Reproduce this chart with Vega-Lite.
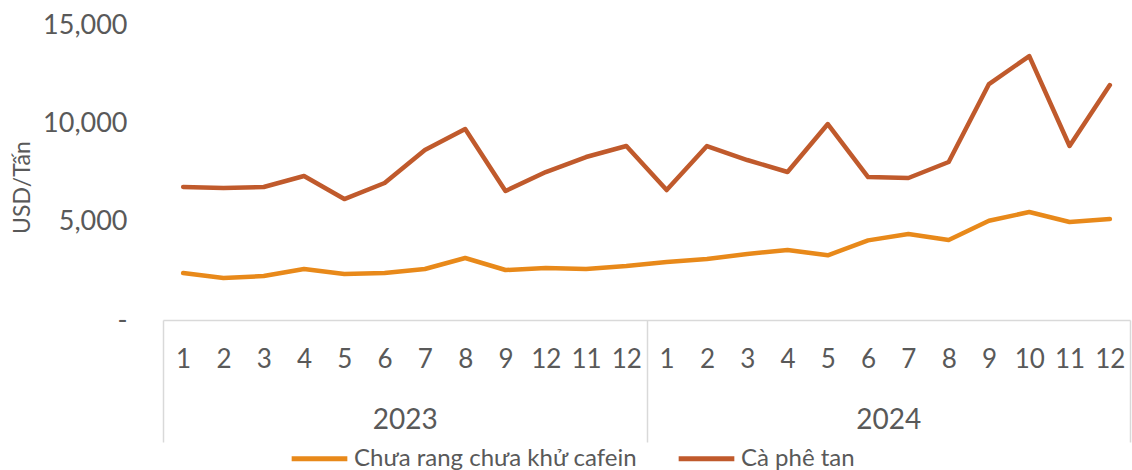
{
  "$schema": "https://vega.github.io/schema/vega-lite/v6.json",
  "width": 967,
  "height": 295,
  "autosize": "none",
  "padding": {"left": 163, "top": 25, "right": 2, "bottom": 150},
  "background": "white",
  "config": {
    "font": "Lato",
    "view": {"stroke": null},
    "axis": {"labelColor": "#595959", "titleColor": "#595959", "labelFont": "Lato", "titleFont": "Lato", "grid": false}
  },
  "layer": [
    {
      "data": {"values": [
        {"key": "2023|01|1", "series": "Chưa rang chưa khử cafein", "value": 2390},
        {"key": "2023|02|2", "series": "Chưa rang chưa khử cafein", "value": 2135},
        {"key": "2023|03|3", "series": "Chưa rang chưa khử cafein", "value": 2237},
        {"key": "2023|04|4", "series": "Chưa rang chưa khử cafein", "value": 2593},
        {"key": "2023|05|5", "series": "Chưa rang chưa khử cafein", "value": 2339},
        {"key": "2023|06|6", "series": "Chưa rang chưa khử cafein", "value": 2390},
        {"key": "2023|07|7", "series": "Chưa rang chưa khử cafein", "value": 2593},
        {"key": "2023|08|8", "series": "Chưa rang chưa khử cafein", "value": 3152},
        {"key": "2023|09|9", "series": "Chưa rang chưa khử cafein", "value": 2542},
        {"key": "2023|10|12", "series": "Chưa rang chưa khử cafein", "value": 2644},
        {"key": "2023|11|11", "series": "Chưa rang chưa khử cafein", "value": 2593},
        {"key": "2023|12|12", "series": "Chưa rang chưa khử cafein", "value": 2745},
        {"key": "2024|01|1", "series": "Chưa rang chưa khử cafein", "value": 2949},
        {"key": "2024|02|2", "series": "Chưa rang chưa khử cafein", "value": 3101},
        {"key": "2024|03|3", "series": "Chưa rang chưa khử cafein", "value": 3355},
        {"key": "2024|04|4", "series": "Chưa rang chưa khử cafein", "value": 3559},
        {"key": "2024|05|5", "series": "Chưa rang chưa khử cafein", "value": 3290},
        {"key": "2024|06|6", "series": "Chưa rang chưa khử cafein", "value": 4050},
        {"key": "2024|07|7", "series": "Chưa rang chưa khử cafein", "value": 4372},
        {"key": "2024|08|8", "series": "Chưa rang chưa khử cafein", "value": 4067},
        {"key": "2024|09|9", "series": "Chưa rang chưa khử cafein", "value": 5050},
        {"key": "2024|10|10", "series": "Chưa rang chưa khử cafein", "value": 5491},
        {"key": "2024|11|11", "series": "Chưa rang chưa khử cafein", "value": 4982},
        {"key": "2024|12|12", "series": "Chưa rang chưa khử cafein", "value": 5135},
        {"key": "2023|01|1", "series": "Cà phê tan", "value": 6762},
        {"key": "2023|02|2", "series": "Cà phê tan", "value": 6711},
        {"key": "2023|03|3", "series": "Cà phê tan", "value": 6762},
        {"key": "2023|04|4", "series": "Cà phê tan", "value": 7320},
        {"key": "2023|05|5", "series": "Cà phê tan", "value": 6150},
        {"key": "2023|06|6", "series": "Cà phê tan", "value": 6965},
        {"key": "2023|07|7", "series": "Cà phê tan", "value": 8642},
        {"key": "2023|08|8", "series": "Cà phê tan", "value": 9710},
        {"key": "2023|09|9", "series": "Cà phê tan", "value": 6558},
        {"key": "2023|10|12", "series": "Cà phê tan", "value": 7524},
        {"key": "2023|11|11", "series": "Cà phê tan", "value": 8287},
        {"key": "2023|12|12", "series": "Cà phê tan", "value": 8846},
        {"key": "2024|01|1", "series": "Cà phê tan", "value": 6609},
        {"key": "2024|02|2", "series": "Cà phê tan", "value": 8846},
        {"key": "2024|03|3", "series": "Cà phê tan", "value": 8134},
        {"key": "2024|04|4", "series": "Cà phê tan", "value": 7524},
        {"key": "2024|05|5", "series": "Cà phê tan", "value": 9964},
        {"key": "2024|06|6", "series": "Cà phê tan", "value": 7270},
        {"key": "2024|07|7", "series": "Cà phê tan", "value": 7219},
        {"key": "2024|08|8", "series": "Cà phê tan", "value": 8033},
        {"key": "2024|09|9", "series": "Cà phê tan", "value": 11998},
        {"key": "2024|10|10", "series": "Cà phê tan", "value": 13421},
        {"key": "2024|11|11", "series": "Cà phê tan", "value": 8846},
        {"key": "2024|12|12", "series": "Cà phê tan", "value": 11947}
      ]},
      "mark": {"type": "line", "strokeWidth": 4.5, "strokeJoin": "round", "strokeCap": "round"},
      "encoding": {
        "x": {
          "field": "key", "type": "ordinal", "sort": "ascending",
          "axis": {
            "title": null, "orient": "bottom", "labelAngle": 0, "ticks": false,
            "domain": true, "domainColor": "#d9d9d9", "domainWidth": 1.5,
            "labelExpr": "split(datum.value, '|')[2]",
            "labelFontSize": 26, "labelPadding": 26, "labelBaseline": "top"
          }
        },
        "y": {
          "field": "value", "type": "quantitative",
          "scale": {"domain": [0, 15000], "nice": false},
          "axis": {
            "title": "USD/Tấn", "titleFontSize": 23, "titleFontWeight": "normal",
            "titlePadding": 8, "titleY": 162,
            "values": [0, 5000, 10000, 15000], "domain": false, "ticks": false,
            "labelFontSize": 27, "labelPadding": 36,
            "labelExpr": "datum.value == 0 ? '-' : format(datum.value, ',')"
          }
        },
        "color": {
          "field": "series", "type": "nominal",
          "scale": {"domain": ["Chưa rang chưa khử cafein", "Cà phê tan"], "range": ["#E8891A", "#C05A2C"]},
          "legend": {
            "title": null, "orient": "none", "legendX": 126, "legendY": 403, "direction": "horizontal",
            "symbolType": "stroke", "symbolSize": 3100, "symbolStrokeWidth": 5,
            "labelFontSize": 24, "labelColor": "#595959", "labelFont": "Lato", "labelLimit": 0,
            "columnPadding": 30, "labelOffset": 4, "padding": 0
          }
        }
      }
    },
    {
      "data": {"values": [{"year": "2023"}, {"year": "2024"}]},
      "mark": {"type": "point", "opacity": 0},
      "encoding": {
        "x": {
          "field": "year", "type": "ordinal",
          "scale": {"type": "band", "paddingInner": 0, "paddingOuter": 0},
          "axis": {
            "title": null, "orient": "bottom", "labelAngle": 0, "domain": false,
            "ticks": true, "tickBand": "extent", "tickSize": 122, "tickColor": "#d9d9d9", "tickWidth": 1.5,
            "labelFontSize": 28, "labelPadding": -36, "labelBaseline": "top"
          }
        }
      }
    }
  ],
  "resolve": {"scale": {"x": "independent"}, "axis": {"x": "independent"}}
}
